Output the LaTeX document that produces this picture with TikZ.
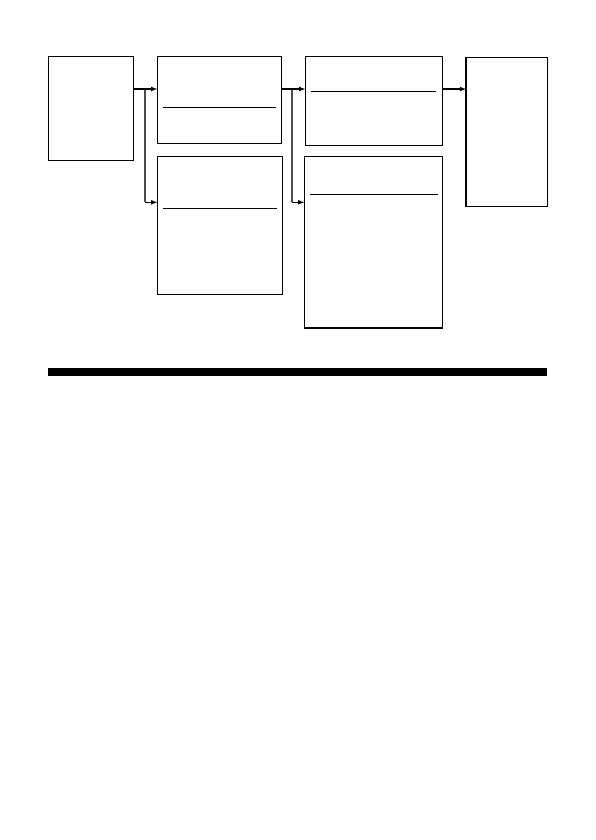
\documentclass[tikz,border=0pt]{standalone}
\usetikzlibrary{arrows}
\tikzstyle{block} = [rectangle, draw, line width=1.2bp, inner sep=0pt, outer sep=0pt]
\tikzstyle{divider} = [line width=1.1bp]
\tikzstyle{arrow} = [line width=1.1bp,->,>=latex]
\tikzstyle{branch} = [line width=1.8bp, black!70]

\begin{document}
\begin{tikzpicture}[x=1bp,y=-1bp]
    \useasboundingbox (0,0) rectangle (596,840);

    \node [block, minimum width=85.4bp, minimum height=104bp] at (91,108.3) (src) {};
    \node [block, minimum width=124.4bp, minimum height=87bp] at (219.5,99.8) (midtop) {};
    \node [block, minimum width=125.4bp, minimum height=138bp] at (220,225.3) (midbot) {};
    \node [block, minimum width=137.4bp, minimum height=89bp] at (374,100.8) (righttop) {};
    \node [block, minimum width=138.4bp, minimum height=171.3bp] at (373.5,242.3) (rightbot) {};
    \node [block, minimum width=81.3bp, minimum height=149bp] at (506.7,131.8) (sink) {};

    \draw [divider] ([shift={(6,51)}]midtop.north west) -- ([shift={(-6,51)}]midtop.north east);
    \draw [divider] ([shift={(6,52)}]midbot.north west) -- ([shift={(-6,52)}]midbot.north east);
    \draw [divider] ([shift={(6,35)}]righttop.north west) -- ([shift={(-7,35)}]righttop.north east);
    \draw [divider] ([shift={(6,37.6)}]rightbot.north west) -- ([shift={(-5,37.6)}]rightbot.north east);

    \coordinate (fork1) at (145,89);
    \coordinate (turn1) at (145,202.3);
    \coordinate (fork2) at (292.3,89);
    \coordinate (turn2) at (292.3,202.3);

    \draw [branch] (fork1) -- (turn1);
    \draw [branch] (fork2) -- (turn2);
    \draw [arrow] (src.east |- fork1) -- (midtop.west |- fork1);
    \draw [arrow] (turn1) -- (midbot.west |- turn1);
    \draw [arrow] (midtop.east |- fork2) -- (righttop.west |- fork2);
    \draw [arrow] (turn2) -- (rightbot.west |- turn2);
    \draw [arrow] (righttop.east |- fork2) -- (sink.west |- fork2);

    \fill (48,368) rectangle (547,375.7);
\end{tikzpicture}
\end{document}
